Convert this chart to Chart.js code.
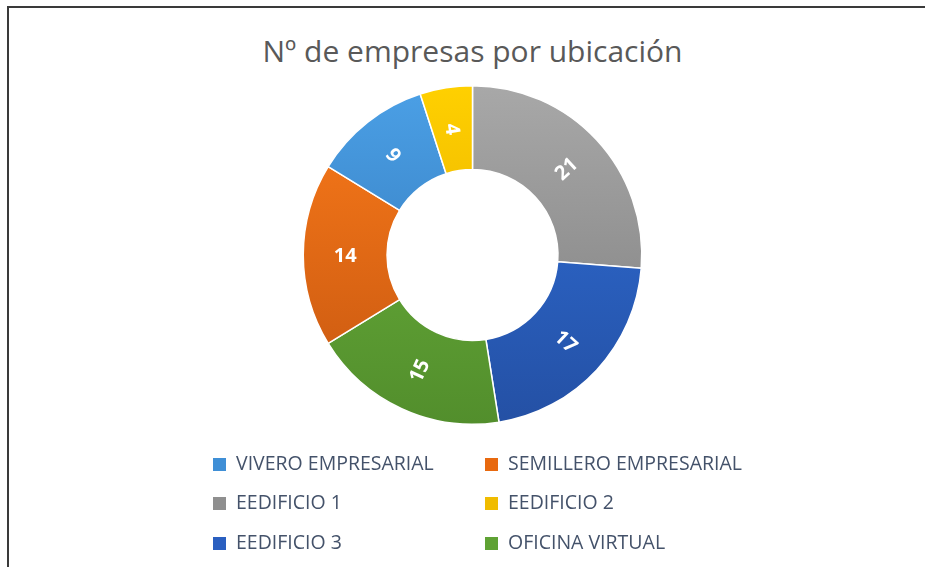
<!DOCTYPE html>
<html>
<head>
<meta charset="utf-8">
<script src="https://cdn.jsdelivr.net/npm/chart.js@4"></script>
<style>
    html, body { margin: 0; padding: 0; background: #fff; }
    #wrap { position: relative; width: 925px; height: 567px; overflow: hidden; }
    #frame {
        position: absolute; left: 7px; top: 6px; right: -4px; bottom: -4px;
        border-top: 2px solid #3a3a3a; border-left: 2px solid #3a3a3a;
    }
    #title {
        position: absolute; left: 20px; right: 0; top: 30px;
        text-align: center; font-family: "Open Sans", sans-serif;
        font-size: 30px; color: #595959; white-space: nowrap;
    }
    canvas { position: absolute; left: 0; top: 0; }
    #legend { position: absolute; left: 0; top: 0; font-family: "Open Sans", sans-serif; }
    .item { position: absolute; font-size: 19.5px; color: #44526a; white-space: nowrap; line-height: 22px; }
    .box { display: inline-block; width: 13px; height: 13px; margin-right: 10px; vertical-align: -1px; }
</style>
</head>
<body>
<div id="wrap">
    <div id="frame"></div>
    <div id="title">Nº de empresas por ubicación</div>
    <canvas id="chart" width="925" height="567"></canvas>
    <div id="legend"></div>
</div>
<script>
// slices, clockwise from the top as in the picture
const labels = ['EEDIFICIO 1', 'EEDIFICIO 3', 'OFICINA VIRTUAL', 'SEMILLERO EMPRESARIAL', 'VIVERO EMPRESARIAL', 'EEDIFICIO 2'];
const values = [21, 17, 15, 14, 9, 4];
const topColors    = ['#a8a8a8', '#3070da', '#6eb63e', '#fb7b1a', '#4ba0e6', '#ffd000'];
const bottomColors = ['#7c7c7c', '#2450a4', '#528e2c', '#c55610', '#2e6fb0', '#dea200'];
const swatchColors = ['#8f8f8f', '#2a5fc0', '#5fa234', '#e8690f', '#3f8fd6', '#f0bc00'];
// legend order as shown under the chart
const legendOrder = ['VIVERO EMPRESARIAL', 'SEMILLERO EMPRESARIAL', 'EEDIFICIO 1', 'EEDIFICIO 2', 'EEDIFICIO 3', 'OFICINA VIRTUAL'];

function sliceFill(ctx) {
    const chart = ctx.chart;
    const i = ctx.dataIndex;
    const area = chart.chartArea;
    if (!area) return topColors[i];
    const g = chart.ctx.createLinearGradient(0, area.top, 0, area.bottom);
    g.addColorStop(0, topColors[i]);
    g.addColorStop(1, bottomColors[i]);
    return g;
}

// value labels, turned along the radius like the original
const sliceLabels = {
    id: 'sliceLabels',
    afterDatasetsDraw(chart) {
        const ctx = chart.ctx;
        const meta = chart.getDatasetMeta(0);
        ctx.save();
        ctx.fillStyle = '#ffffff';
        ctx.font = 'bold 20px "Open Sans", sans-serif';
        ctx.textAlign = 'center';
        ctx.textBaseline = 'middle';
        meta.data.forEach((arc, i) => {
            const p = arc.getProps(['x', 'y', 'startAngle', 'endAngle', 'innerRadius', 'outerRadius'], true);
            const mid = (p.startAngle + p.endAngle) / 2;
            const r = (p.innerRadius + p.outerRadius) / 2;
            const x = p.x + Math.cos(mid) * r;
            const y = p.y + Math.sin(mid) * r;
            let rot = mid;
            let norm = ((rot % (2 * Math.PI)) + 2 * Math.PI) % (2 * Math.PI);
            if (norm > Math.PI / 2 && norm < 3 * Math.PI / 2) rot += Math.PI;
            ctx.save();
            ctx.translate(x, y);
            ctx.rotate(rot);
            ctx.fillText(String(values[i]), 0, 1);
            ctx.restore();
        });
        ctx.restore();
    }
};

new Chart(document.getElementById('chart'), {
    type: 'doughnut',
    data: {
        labels: labels,
        datasets: [{
            data: values,
            backgroundColor: sliceFill,
            borderColor: '#ffffff',
            borderWidth: 1.5,
        }]
    },
    options: {
        responsive: false,
        animation: false,
        cutout: '50.5%',
        layout: { padding: { top: 85, bottom: 142, left: 20, right: 0 } },
        plugins: {
            legend: { display: false },
            tooltip: { enabled: false },
            title: { display: false }
        }
    },
    plugins: [sliceLabels]
});

// two-column legend
const legendEl = document.getElementById('legend');
const colX = [213, 485];
const rowY = [452, 491, 531];
legendOrder.forEach((name, k) => {
    const i = labels.indexOf(name);
    const el = document.createElement('div');
    el.className = 'item';
    el.style.left = colX[k % 2] + 'px';
    el.style.top = rowY[Math.floor(k / 2)] + 'px';
    el.innerHTML = '<span class="box" style="background:' + swatchColors[i] + '"></span>' + name;
    legendEl.appendChild(el);
});
</script>
</body>
</html>
